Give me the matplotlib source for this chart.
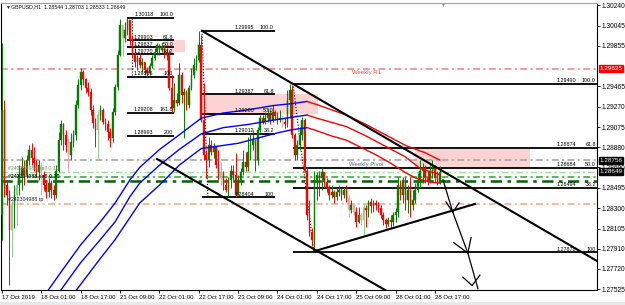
import matplotlib
matplotlib.use("Agg")
import matplotlib.pyplot as plt
from matplotlib.patches import Rectangle

plt.rcParams['font.family'] = ['Liberation Sans', 'DejaVu Sans']

# GBPUSD H1, bar 0 = 17 Oct 2019 09:00
first_open = 1.2823
closes = [
    1.2924, 1.2852, 1.2843, 1.2809, 1.2833, 1.2843, 1.2852, 1.2862, 1.2868, 1.2862,
    1.2876, 1.2886, 1.2878, 1.2873, 1.2865, 1.2871, 1.2862, 1.2852, 1.2845, 1.2854,
    1.2847, 1.2843, 1.2866, 1.2895, 1.2910, 1.2900, 1.2890, 1.2881, 1.2893, 1.2900,
    1.2929, 1.2948, 1.2960, 1.2953, 1.2945, 1.2941, 1.2924, 1.2911, 1.2905, 1.2919,
    1.2924, 1.2912, 1.2910, 1.2903, 1.2897, 1.2922, 1.2946, 1.2976, 1.3005, 1.2993,
    1.3000, 1.3010, 1.2991, 1.2976, 1.2970, 1.2974, 1.2967, 1.2970, 1.2962, 1.2959,
    1.2966, 1.2974, 1.2979, 1.2986, 1.2981, 1.2985, 1.2979, 1.2976, 1.2945, 1.2926,
    1.2933, 1.2931, 1.2957, 1.2938, 1.2941, 1.2929, 1.2945, 1.2957, 1.2967, 1.2972,
    1.2986, 1.2914, 1.2881, 1.2876, 1.2890, 1.2884, 1.2888, 1.2871, 1.2859, 1.2865,
    1.2852, 1.2847, 1.2857, 1.2866, 1.2862, 1.2843, 1.2857, 1.2865, 1.2874, 1.2869,
    1.2884, 1.2890, 1.2895, 1.2876, 1.2905, 1.2916, 1.2912, 1.2916, 1.2919, 1.2914,
    1.2922, 1.2918, 1.2914, 1.2916, 1.2912, 1.2910, 1.2933, 1.2943, 1.2900, 1.2881,
    1.2890, 1.2900, 1.2914, 1.2866, 1.2823, 1.2807, 1.2800, 1.2857, 1.2862, 1.2859,
    1.2865, 1.2855, 1.2850, 1.2843, 1.2845, 1.2841, 1.2845, 1.2847, 1.2843, 1.2847,
    1.2840, 1.2828, 1.2833, 1.2826, 1.2817, 1.2823, 1.2819, 1.2830, 1.2828, 1.2836,
    1.2832, 1.2835, 1.2833, 1.2830, 1.2823, 1.2819, 1.2815, 1.2819, 1.2817, 1.2823,
    1.2826, 1.2852, 1.2843, 1.2857, 1.2838, 1.2847, 1.2833, 1.2838, 1.2847, 1.2857,
    1.2866, 1.2868, 1.2859, 1.2855, 1.2866, 1.2870, 1.2859, 1.28544, 1.28649,
]
highs = [
    1.2988, 1.2933, 1.2857, 1.2847, 1.2838, 1.2852, 1.2857, 1.2871, 1.2879, 1.2876,
    1.2881, 1.2890, 1.2892, 1.2888, 1.2876, 1.2876, 1.2874, 1.2866, 1.2857, 1.2859,
    1.2857, 1.2852, 1.2871, 1.2903, 1.2914, 1.2911, 1.2905, 1.2897, 1.2902, 1.2905,
    1.2933, 1.2953, 1.2964, 1.2962, 1.2954, 1.2951, 1.2945, 1.2929, 1.2916, 1.2924,
    1.2929, 1.2926, 1.2916, 1.2914, 1.2907, 1.2926, 1.2949, 1.2981, 1.3011, 1.3005,
    1.3008, 1.30118, 1.3008, 1.2996, 1.2983, 1.2976, 1.2978, 1.2974, 1.2970, 1.2965,
    1.2969, 1.2976, 1.2983, 1.2988, 1.2987, 1.2989, 1.2986, 1.2983, 1.2981, 1.2957,
    1.2950, 1.2940, 1.2969, 1.2960, 1.2945, 1.2943, 1.2948, 1.2964, 1.2974, 1.2976,
    1.29995, 1.2996, 1.2950, 1.2886, 1.2898, 1.2895, 1.2892, 1.2888, 1.2886, 1.2874,
    1.2866, 1.2859, 1.2860, 1.2871, 1.2871, 1.2883, 1.2862, 1.2868, 1.2886, 1.2884,
    1.2898, 1.2902, 1.2905, 1.2895, 1.2908, 1.2919, 1.2919, 1.2922, 1.2926, 1.2924,
    1.2929, 1.2924, 1.2922, 1.2924, 1.2919, 1.2916, 1.2943, 1.29490, 1.2948, 1.2902,
    1.2895, 1.2908, 1.2917, 1.2916, 1.2869, 1.2838, 1.2811, 1.2866, 1.2865, 1.2866,
    1.2868, 1.2865, 1.2859, 1.2852, 1.2852, 1.2847, 1.2849, 1.2852, 1.2849, 1.2850,
    1.2852, 1.2843, 1.2838, 1.2835, 1.2831, 1.2831, 1.2826, 1.2835, 1.2833, 1.2838,
    1.2840, 1.2838, 1.2838, 1.2836, 1.2833, 1.2826, 1.2821, 1.2822, 1.2823, 1.2826,
    1.2830, 1.2860, 1.2857, 1.2860, 1.2860, 1.2852, 1.2860, 1.2847, 1.2854, 1.2864,
    1.2876, 1.2873, 1.2871, 1.2866, 1.2873, 1.2876, 1.2871, 1.2866, 1.28703,
]
lows = [
    1.2800, 1.2841, 1.2833, 1.2757, 1.2783, 1.2811, 1.2814, 1.2843, 1.2847, 1.2852,
    1.2859, 1.2871, 1.2871, 1.2866, 1.2860, 1.2857, 1.2843, 1.2847, 1.2840, 1.2841,
    1.2840, 1.2838, 1.2840, 1.2865, 1.2890, 1.2886, 1.2884, 1.2866, 1.2876, 1.2888,
    1.2895, 1.2926, 1.2943, 1.2948, 1.2940, 1.2937, 1.2919, 1.2907, 1.2888, 1.2876,
    1.2914, 1.2910, 1.2905, 1.2895, 1.2888, 1.2893, 1.2919, 1.2943, 1.2975, 1.2975,
    1.2989, 1.2996, 1.2986, 1.2974, 1.2965, 1.2962, 1.2964, 1.2960, 1.2957, 1.29556,
    1.2957, 1.2964, 1.2972, 1.2976, 1.2976, 1.2979, 1.2974, 1.2972, 1.2943, 1.2922,
    1.2922, 1.2928, 1.2929, 1.2931, 1.2897, 1.2924, 1.2926, 1.2943, 1.2954, 1.2962,
    1.2970, 1.2912, 1.2876, 1.2859, 1.2869, 1.2881, 1.2878, 1.2868, 1.2857, 1.2852,
    1.2847, 1.2845, 1.28404, 1.2849, 1.2857, 1.2841, 1.2843, 1.2852, 1.2862, 1.2866,
    1.2866, 1.2876, 1.2886, 1.2866, 1.2871, 1.2903, 1.2910, 1.2910, 1.2912, 1.2910,
    1.2912, 1.2914, 1.2910, 1.2912, 1.2908, 1.2907, 1.2908, 1.2916, 1.2897, 1.2876,
    1.2876, 1.2886, 1.2895, 1.2865, 1.2819, 1.2803, 1.2794, 1.27878, 1.2838, 1.2842,
    1.2847, 1.2850, 1.2845, 1.2838, 1.2840, 1.2835, 1.2838, 1.2842, 1.2838, 1.2840,
    1.2836, 1.2822, 1.2825, 1.2823, 1.2812, 1.2816, 1.2814, 1.2804, 1.2812, 1.2822,
    1.2825, 1.2826, 1.2828, 1.2826, 1.2821, 1.2814, 1.2811, 1.2813, 1.2811, 1.2813,
    1.2817, 1.2822, 1.2838, 1.2835, 1.2828, 1.2825, 1.2822, 1.2828, 1.2835, 1.2845,
    1.2850, 1.2854, 1.2854, 1.2852, 1.2854, 1.2859, 1.2855, 1.2852, 1.28533,
]
faded = [4, 6, 16, 27, 39, 49, 89, 114, 141, 143, 146, 147]

x_label_bars = [0, 16, 32, 48, 64, 80, 96, 112, 128, 144, 160, 176]
x_labels = ["17 Oct 2019", "18 Oct 01:00", "18 Oct 17:00", "21 Oct 09:00",
            "22 Oct 01:00", "22 Oct 17:00", "23 Oct 09:00", "24 Oct 01:00",
            "24 Oct 17:00", "25 Oct 09:00", "28 Oct 01:00", "28 Oct 17:00"]
y_ticks = [1.30240, 1.30045, 1.29855, 1.29465, 1.29270, 1.29075, 1.28880,
           1.28690, 1.28495, 1.28300, 1.28105, 1.27910, 1.27720, 1.27525]

# moving average envelope (bar, value); blue while rising, red after the turn
ma_turn_bar = 124
ma_up_bars = [18, 24, 32, 40, 46, 52, 56, 64, 72, 81, 90, 100, 110, 118, 124,
              128, 134, 140, 148, 156, 164, 172, 178]
ma_up = [1.2749, 1.2769, 1.2795, 1.2817, 1.2835, 1.2857, 1.2869, 1.2886, 1.2900,
         1.2916, 1.2921, 1.2924, 1.2928, 1.2930, 1.2932, 1.2929, 1.2924, 1.2919,
         1.2910, 1.2900, 1.2890, 1.2883, 1.2876]
ma_mid_bars = [24, 32, 40, 46, 52, 56, 64, 72, 81, 90, 100, 110, 118, 124,
               128, 134, 140, 148, 156, 164, 170, 174, 178]
ma_mid = [1.2752, 1.2778, 1.2800, 1.2817, 1.2841, 1.2854, 1.2871, 1.2886, 1.2901,
          1.2907, 1.2910, 1.2914, 1.2917, 1.2919, 1.2916, 1.2912, 1.2908, 1.2899,
          1.2889, 1.2879, 1.2868, 1.2865, 1.2862]
ma_low_bars = [30, 40, 46, 52, 56, 64, 72, 81, 90, 96, 104, 112, 118, 124,
               128, 134, 140, 146, 152, 158, 164, 168, 174, 178]
ma_low = [1.2751, 1.2782, 1.2800, 1.2821, 1.2835, 1.2852, 1.2871, 1.2887, 1.2890,
          1.2892, 1.2897, 1.2902, 1.2905, 1.2907, 1.2904, 1.2899, 1.2895, 1.2888,
          1.2881, 1.2873, 1.2864, 1.2859, 1.2855, 1.2854]

# fibonacci objects: bar span, level prices, level names
fib_spans = [(51, 70), (81.3, 111), (118.3, 241.9)]
fib_prices = [[1.30118, 1.29903, 1.29837, 1.29770, 1.29556, 1.29208, 1.28993],
              [1.29995, 1.29387, 1.29200, 1.29012, 1.28404],
              [1.29490, 1.28874, 1.28684, 1.28494, 1.27878]]
fib_names = [["100.0", "61.8", "50.0", "38.2", "100", "161.8", "200"],
             ["100.0", "61.8", "50.0", "38.2", "100"],
             ["100.0", "61.8", "50.0", "38.2", "100"]]
fib_diag = [((52.8, 1.30118), (52.8, 1.29556)),
            ((81.3, 1.29995), (83.7, 1.28404)),
            ((118.3, 1.29490), (126.8, 1.27878))]
zones = [(67, 74.4, 1.29790, 1.29903), (81.3, 128.5, 1.29200, 1.29387),
         (168, 214.6, 1.28684, 1.28874)]

trend_lines = [((81.3, 1.29995), (241.9, 1.27795)),
               ((63, 1.2877), (160, 1.2746)),
               ((127.2, 1.2789), (192.3, 1.2834))]
sketch = [(179.3, 1.2857), (183.3, 1.2826), (189.4, 1.2787), (193.5, 1.2753)]
sketch_heads = [[(180.5, 1.2836), (183.3, 1.2826), (185.8, 1.2835)],
                [(183.7, 1.2797), (189.4, 1.2787), (190.7, 1.2802)],
                [(187.4, 1.2764), (191.1, 1.2756), (194.3, 1.2766)]]

weekly_r1 = 1.29635
weekly_pivot = 1.28756
bid = 1.28649
order_lines = [1.28600, 1.28560]
tp_line = 1.28340

fig = plt.figure(figsize=(6.25, 3.05), dpi=100)
fig.patch.set_facecolor('white')
ax = fig.add_axes([1 / 625, 1 - 290 / 305, 596 / 625, 287 / 305])
ax.set_xlim(-0.41, 241.9)
ax.set_ylim(1.275176, 1.302613)

# zones
for b0, b1, p0, p1 in zones:
    ax.add_patch(Rectangle((b0, p0), b1 - b0, p1 - p0, fc='#fcd2d2', ec='none', zorder=0))

dd = (0, (4.5, 2.2, 1.4, 2.2))
ax.axhline(weekly_r1, color='#f08080', lw=1.1, ls=dd, zorder=1)
ax.axhline(weekly_pivot, color='#a0a0a0', lw=1.1, ls=dd, zorder=1)
ax.axhline(bid, color='#98e098', lw=1.0, ls=dd, zorder=1)
ax.axhline(order_lines[0], color='#3a9a3a', lw=1.1, ls=dd, zorder=1)
ax.axhline(order_lines[1], color='#006400', lw=1.8, ls=dd, zorder=1)
ax.axhline(tp_line, color='#f4a582', lw=1.1, ls=dd, zorder=1)

ax.text(148, 1.2962, "Weekly R1", color='#e84848', fontsize=4.3, ha='center', va='top', zorder=6)
ax.text(148, 1.28717, "Weekly Pivot", color='#5a6a80', fontsize=4.3, ha='center', va='center', zorder=6)
ax.text(2.4, 1.2868, "#242304988 sell 0.10", color='#6b8e6b', fontsize=3.8, va='center', zorder=6)
ax.text(2.4, 1.2860, "#242304988 sell 0.10", color='#1a2a1a', fontsize=3.8, va='center',
        fontweight='bold', zorder=6)
ax.text(2.4, 1.2838, "#242304988 tp", color='#202020', fontsize=3.8, va='center', zorder=6)

# fibonacci levels
for (b0, b1), prices, names in zip(fib_spans, fib_prices, fib_names):
    for p, name in zip(prices, names):
        ax.plot([b0, b1], [p, p], color='black', lw=1.3, zorder=2, solid_capstyle='butt')
        ax.annotate(f"{p:.5f}", xy=(b1, p), xytext=(-15, 0.5), textcoords='offset points',
                    ha='right', va='bottom', fontsize=3.9, zorder=6)
        ax.annotate(name, xy=(b1, p), xytext=(-0.8, 0.5), textcoords='offset points',
                    ha='right', va='bottom', fontsize=3.9, zorder=6)
for (b0, p0), (b1, p1) in fib_diag:
    ax.plot([b0, b1], [p0, p1], color='black', lw=0.8, ls=':', zorder=2)

# candles
opens = [first_open] + closes[:-1]
for i, (o, h, l, c) in enumerate(zip(opens, highs, lows, closes)):
    up = c >= o
    if i in faded:
        col = '#8fd18f' if up else '#f5a3a3'
    else:
        col = '#008000' if up else '#ff0000'
    ax.vlines(i, min(l, o, c), max(h, o, c), color=col, lw=0.7, zorder=3)
    ax.add_patch(Rectangle((i - 0.32, min(o, c)), 0.64, max(abs(c - o), 0.00002),
                           fc=col, ec=col, lw=0.3, zorder=3))

# moving averages
for bars, vals in [(ma_up_bars, ma_up), (ma_mid_bars, ma_mid), (ma_low_bars, ma_low)]:
    k = bars.index(ma_turn_bar)
    ax.plot(bars[:k + 1], vals[:k + 1], color='#0000ff', lw=1.0, zorder=4)
    ax.plot(bars[k:], vals[k:], color='#ff0000', lw=1.0, zorder=4)

# drawn objects
for (b0, p0), (b1, p1) in trend_lines:
    ax.plot([b0, b1], [p0, p1], color='black', lw=1.5, zorder=5)
ax.plot([s[0] for s in sketch], [s[1] for s in sketch], color='black', lw=0.9, zorder=5)
for head in sketch_heads:
    ax.plot([s[0] for s in head], [s[1] for s in head], color='black', lw=0.9, zorder=5)

# axes
ax.yaxis.tick_right()
ax.set_yticks(y_ticks)
ax.set_yticklabels([f"{v:.5f}" for v in y_ticks], fontsize=4.8)
ax.set_xticks(x_label_bars)
ax.set_xticklabels(x_labels, fontsize=4.3, ha='left')
ax.tick_params(axis='y', length=2, width=0.6, pad=1.5)
ax.tick_params(axis='x', length=2, width=0.6, pad=1.5)
for side in ['left', 'bottom', 'right']:
    ax.spines[side].set_color('black')
    ax.spines[side].set_linewidth(0.8)
ax.spines['top'].set_color('#a0a0a0')

# price labels on the scale (1.28690 tick stays partly visible between the boxes)
ytr = ax.get_yaxis_transform()
for price, fc in [(weekly_r1, '#ff0000'), (weekly_pivot, '#000000'), (bid, '#000000')]:
    ax.text(1.004, price, f"{price:.5f}", transform=ytr, fontsize=4.6, color='white',
            ha='left', va='center', zorder=7,
            bbox=dict(boxstyle='square,pad=0.12', fc=fc, ec=fc))

fig.text(5 / 625, 1 - 7 / 305, "▼", fontsize=3.5, va='center', color='#202020')
fig.text(11 / 625, 1 - 7 / 305, "GBPUSD,H1  1.28544 1.28703 1.28533 1.28649",
         fontsize=3.8, va='center', color='#101010')
fig.text(442 / 625, 1 - 5 / 305, "▼", fontsize=3.5, ha='center', va='center', color='#909090')
fig.patches.append(Rectangle((0, 0), 1, 3 / 305, transform=fig.transFigure,
                             fc='#e8e8e8', ec='none'))

fig.savefig("out.png", dpi=100)
